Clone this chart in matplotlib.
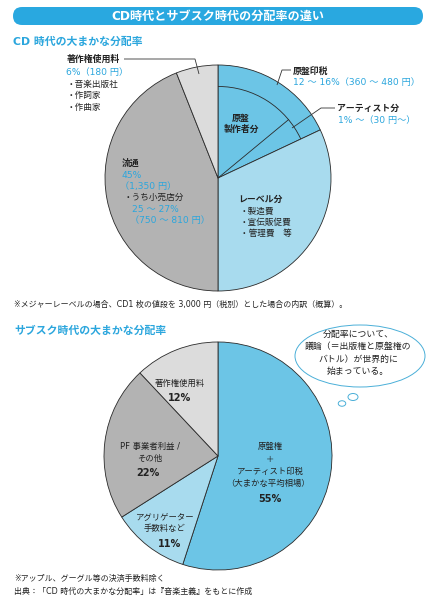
import numpy as np
import matplotlib
matplotlib.use("Agg")
import matplotlib.pyplot as plt
from matplotlib.patches import Arc, FancyBboxPatch, Ellipse

# DejaVu first for the wide latin digits, CJK font for the rest
plt.rcParams['font.family'] = ['DejaVu Sans', 'Noto Sans CJK JP']

W, H = 432, 606

# CD era slices, clockwise from 12 o'clock
cd_labels = ['原盤', 'レーベル分', '流通', '著作権使用料']
cd_values = [18, 32, 44, 6]
cd_colors = ['#6cc5e6', '#a8dbee', '#b3b3b3', '#dcdcdc']
# inside the 原盤 slice: 原盤製作者分 / アーティスト分
cd_inner = [14, 4]

# subscription era slices
sub_labels = ['原盤権＋アーティスト印税', 'アグリゲーター手数料など', 'PF 事業者利益 / その他', '著作権使用料']
sub_values = [55, 11, 22, 12]
sub_colors = ['#6cc5e6', '#a8dbee', '#b3b3b3', '#dcdcdc']

BLUE = '#2ba6dd'
EDGE = '#2a2a2a'

fig = plt.figure(figsize=(W / 100, H / 100), dpi=100)
ax = fig.add_axes([0, 0, 1, 1])


def Y(y):
    # picture measured from the top
    return H - y


def txt(x, y, s, size=6.2, color='#222222', ha='left', weight='normal'):
    ax.text(x, Y(y), s, fontsize=size, color=color, ha=ha, va='center', weight=weight)


def line(xs, ys):
    ax.plot(xs, [Y(v) for v in ys], color='#333333', lw=0.6, solid_capstyle='butt')


# --- CD pie ---
cd_c, cd_r = (218, Y(178)), 113
ax.pie(cd_values, colors=cd_colors, startangle=90, counterclock=False,
       center=cd_c, radius=cd_r,
       wedgeprops=dict(edgecolor=EDGE, linewidth=0.6))

# inner ring line and split inside 原盤
span = 360 * sum(cd_inner) / sum(cd_values)
ax.add_patch(Arc(cd_c, 2 * cd_r * 0.81, 2 * cd_r * 0.81, theta1=90 - span, theta2=90,
                 color=EDGE, lw=0.6))
a = np.radians(90 - 360 * cd_inner[0] / sum(cd_values))
ax.plot([cd_c[0], cd_c[0] + cd_r * 0.81 * np.cos(a)],
        [cd_c[1], cd_c[1] + cd_r * 0.81 * np.sin(a)], color=EDGE, lw=0.6)

# --- subscription pie ---
sub_c, sub_r = (218, Y(456)), 114
ax.pie(sub_values, colors=sub_colors, startangle=90, counterclock=False,
       center=sub_c, radius=sub_r,
       wedgeprops=dict(edgecolor=EDGE, linewidth=0.6))

ax.set_xlim(0, W)
ax.set_ylim(0, H)
ax.set_aspect('auto')
ax.axis('off')

# header banner
ax.add_patch(FancyBboxPatch((13, Y(25)), 410, 18,
                            boxstyle='round,pad=0,rounding_size=9',
                            fc='#29a8e0', ec='none'))
txt(218, 16, 'CD時代とサブスク時代の分配率の違い', size=8.7, color='white', ha='center', weight='bold')

# --- CD section text ---
txt(13, 42, 'CD 時代の大まかな分配率', size=7.8, color=BLUE, weight='bold')

txt(67, 59, '著作権使用料', size=6.4, weight='bold')
line([124, 195, 199], [59, 59, 74])
txt(66, 72, '6%（180 円）', size=6.6, color=BLUE)
txt(67, 84, '・音楽出版社')
txt(67, 95, '・作詞家')
txt(67, 107, '・作曲家')

txt(293, 71, '原盤印税', size=6.4, weight='bold')
line([291, 282, 277], [70, 70, 85])
txt(293, 82, '12 ～ 16%（360 ～ 480 円）', size=6.6, color=BLUE)

txt(337, 108, 'アーティスト分', size=6.4, weight='bold')
line([335, 321, 292], [108, 108, 128])
txt(338, 120, '1% ～（30 円～）', size=6.6, color=BLUE)

txt(241, 118, '原盤', size=6.4, ha='center', weight='bold')
txt(241, 129, '製作者分', size=6.4, ha='center', weight='bold')

txt(122, 163, '流通', size=6.4, weight='bold')
txt(122, 175, '45%', size=6.6, color=BLUE)
txt(120, 186, '（1,350 円）', size=6.6, color=BLUE)
txt(124, 197, '・うち小売店分')
txt(132, 209, '25 ～ 27%', size=6.6, color=BLUE)
txt(130, 221, '（750 ～ 810 円）', size=6.6, color=BLUE)

txt(238, 199, 'レーベル分', size=6.4, weight='bold')
txt(240, 211, '・製造費')
txt(240, 222, '・宣伝販促費')
txt(240, 233, '・管理費　等')

txt(14, 304, '※メジャーレーベルの場合、CD1 枚の値段を 3,000 円（税別）とした場合の内訳（概算）。', size=5.75)

# --- subscription section text ---
txt(14, 331, 'サブスク時代の大まかな分配率', size=7.8, color=BLUE, weight='bold')

ax.add_patch(Ellipse((360, Y(356)), 130, 62, fc='white', ec='#4aafd8', lw=0.7))
ax.add_patch(Ellipse((353, Y(397)), 10, 7, fc='white', ec='#4aafd8', lw=0.7))
ax.add_patch(Ellipse((342, Y(403.5)), 7.5, 5.5, fc='white', ec='#4aafd8', lw=0.7))
txt(358, 334, '分配率について、', size=6.4, ha='center')
txt(358, 346.5, '議論（＝出版権と原盤権の', size=6.4, ha='center')
txt(358, 359, 'バトル）が世界的に', size=6.4, ha='center')
txt(358, 371, '始まっている。', size=6.4, ha='center')

txt(180, 383, '著作権使用料', size=6, ha='center')
txt(180, 398, '12%', size=7, ha='center', weight='bold')

txt(150, 447, 'PF 事業者利益 /', size=6, ha='center')
txt(150, 458, 'その他', size=6, ha='center')
txt(148, 473, '22%', size=7, ha='center', weight='bold')

txt(270, 447, '原盤権', size=6, ha='center')
txt(270, 459, '＋', size=6, ha='center')
txt(270, 471, 'アーティスト印税', size=6, ha='center')
txt(268, 483, '（大まかな平均相場）', size=6, ha='center')
txt(270, 499, '55%', size=7, ha='center', weight='bold')

txt(165, 518, 'アグリゲーター', size=6, ha='center')
txt(165, 529, '手数料など', size=6, ha='center')
txt(170, 544, '11%', size=7, ha='center', weight='bold')

txt(14, 578, '※アップル、グーグル等の決済手数料除く', size=5.75)
txt(14, 591, '出典：「CD 時代の大まかな分配率」は『音楽主義』をもとに作成', size=5.75)

fig.savefig('out.png', dpi=100)
